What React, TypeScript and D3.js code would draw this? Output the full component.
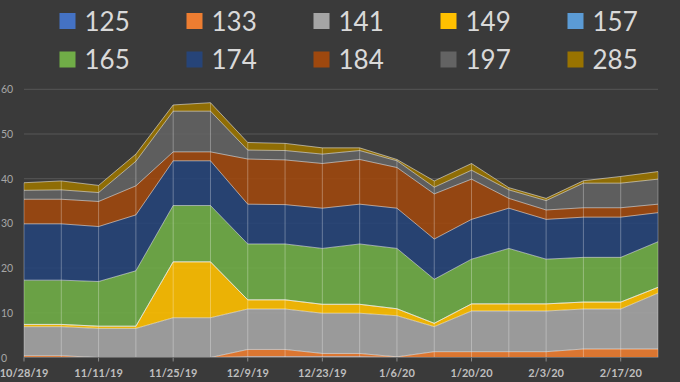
import React from "react";
import * as d3 from "d3";

const dates = [
  "2019-10-28", "2019-11-04", "2019-11-11", "2019-11-18", "2019-11-25", "2019-12-02",
  "2019-12-09", "2019-12-16", "2019-12-23", "2019-12-30", "2020-01-06", "2020-01-13",
  "2020-01-20", "2020-01-27", "2020-02-03", "2020-02-10", "2020-02-17", "2020-02-24",
];
const keys = ["125", "133", "141", "149", "157", "165", "174", "184", "197", "285"];
const colors = ["#4472C4", "#ED7D31", "#A5A5A5", "#FFC000", "#5B9BD5", "#70AD47", "#264478", "#9E480E", "#636363", "#997300"];

const s125 = [0, 0, 0, 0, 0, 0, 0.2, 0.2, 0.2, 0.2, 0.05, 0, 0, 0, 0, 0, 0, 0];
const s133 = [0.4, 0.4, 0, 0, 0, 0, 1.6, 1.6, 0.7, 0.7, 0.1, 1.3, 1.3, 1.3, 1.3, 1.9, 1.9, 1.9];
const s141 = [6.5, 6.5, 6.5, 6.5, 8.9, 8.9, 9.05, 9.05, 9.0, 9.0, 9.2, 5.6, 9.1, 9.1, 9.1, 8.95, 8.95, 12.5];
const s149 = [0.5, 0.5, 0.5, 0.5, 12.5, 12.5, 2.05, 2.05, 2.0, 2.0, 1.55, 0.75, 1.6, 1.6, 1.6, 1.55, 1.55, 1.3];
const s157 = [0, 0, 0, 0, 0, 0, 0, 0, 0, 0, 0, 0, 0, 0, 0, 0, 0, 0];
const s165 = [9.9, 9.9, 10.0, 12.4, 12.6, 12.6, 12.5, 12.5, 12.5, 13.5, 13.5, 9.85, 10.0, 12.4, 10.0, 10.0, 10.0, 10.2];
const s174 = [12.6, 12.6, 12.3, 12.5, 10.0, 10.0, 8.9, 8.8, 9.0, 8.9, 9.0, 9.0, 8.9, 9.0, 8.9, 9.0, 9.0, 6.5];
const s184 = [5.5, 5.5, 5.6, 6.5, 2.0, 2.0, 10.1, 10.0, 10.0, 10.0, 9.1, 10.1, 9.0, 2.2, 2.1, 2.1, 2.1, 1.9];
const s197 = [2.0, 2.1, 2.0, 5.5, 9.1, 9.1, 2.0, 2.1, 2.1, 2.0, 1.5, 1.5, 2.0, 1.9, 2.1, 5.5, 5.5, 5.6];
const s285 = [1.7, 2.0, 1.6, 1.6, 1.4, 1.9, 1.7, 1.6, 1.4, 0.6, 0.3, 1.4, 1.5, 0.5, 0.5, 0.55, 1.5, 1.7];

const series = [s125, s133, s141, s149, s157, s165, s174, s184, s197, s285];
const yTicks = [0, 10, 20, 30, 40, 50, 60];
const xLabelDates = ["2019-10-28", "2019-11-11", "2019-11-25", "2019-12-09", "2019-12-23", "2020-01-06", "2020-01-20", "2020-02-03", "2020-02-17"];

const W = 680, H = 382;
const parse = d3.utcParse("%Y-%m-%d");
const fmt = d3.utcFormat("%-m/%-d/%y");

export default function App() {
  const rows = dates.map((d, i) => {
    const r: any = { date: parse(d) };
    keys.forEach((k, j) => (r[k] = series[j][i]));
    return r;
  });
  const x = d3.scaleUtc().domain([parse(dates[0])!, parse(dates[dates.length - 1])!]).range([24, 658]);
  const y = d3.scaleLinear().domain([0, 60]).range([357.5, 89.3]);
  const stacked = d3.stack().keys(keys)(rows);
  const area = d3.area<any>().x((d) => x(d.data.date)).y0((d) => y(d[0])).y1((d) => y(d[1]));
  const topLine = d3.line<any>().x((d) => x(d.data.date)).y((d) => y(d[1]));
  const top = stacked[stacked.length - 1];

  const legendCols = [59.5, 186.5, 313.5, 440.5, 567.5];
  const legendRows = [21, 59.5];

  return (
    <svg width={W} height={H} style={{ position: "fixed", left: 0, top: 0, background: "#3a3a3a" }}>
      <rect x={0} y={0} width={W} height={H} fill="#3a3a3a" />
      {yTicks.map((t) => (
        <g key={t}>
          {t > 0 && <line x1={24} x2={658} y1={y(t)} y2={y(t)} stroke="#575757" strokeWidth={1} />}
          <text x={1} y={y(t) + 4} fontFamily="Lato, 'Open Sans', sans-serif" fontSize={10.5} fill="#a6a6a6">{t}</text>
        </g>
      ))}
      {stacked.map((s, i) => (
        <path key={keys[i]} d={area(s) || ""} fill={colors[i]} fillOpacity={0.9} />
      ))}
      {stacked.map((s, i) => (
        <path key={"l" + keys[i]} d={topLine(s) || ""} fill="none" stroke="rgba(255,255,255,0.5)" strokeWidth={1} />
      ))}
      {top.map((d: any, i: number) => (
        <line key={"v" + i} x1={x(d.data.date)} x2={x(d.data.date)} y1={y(0)} y2={y(d[1])} stroke="rgba(255,255,255,0.3)" strokeWidth={1} />
      ))}
      <line x1={24} x2={658} y1={y(0)} y2={y(0)} stroke="#6a6a6a" strokeWidth={1} />
      {xLabelDates.map((ds) => {
        const d = parse(ds)!;
        return (
          <g key={ds}>
            <line x1={x(d)} x2={x(d)} y1={y(0)} y2={y(0) + 4} stroke="#8a8a8a" />
            <text x={x(d)} y={376.5} textAnchor="middle" fontFamily="Lato, 'Open Sans', sans-serif" fontWeight={700} fontSize={11} fill="#bfbfbf">{fmt(d)}</text>
          </g>
        );
      })}
      {keys.map((k, i) => {
        const cx = legendCols[i % 5];
        const cy = legendRows[Math.floor(i / 5)];
        return (
          <g key={"lg" + k}>
            <rect x={cx} y={cy - 8} width={16} height={16} fill={colors[i]} />
            <text x={cx + 25} y={cy + 9.5} fontFamily="Lato, 'Open Sans', sans-serif" fontSize={26} fill="#d9d9d9">{k}</text>
          </g>
        );
      })}
    </svg>
  );
}
